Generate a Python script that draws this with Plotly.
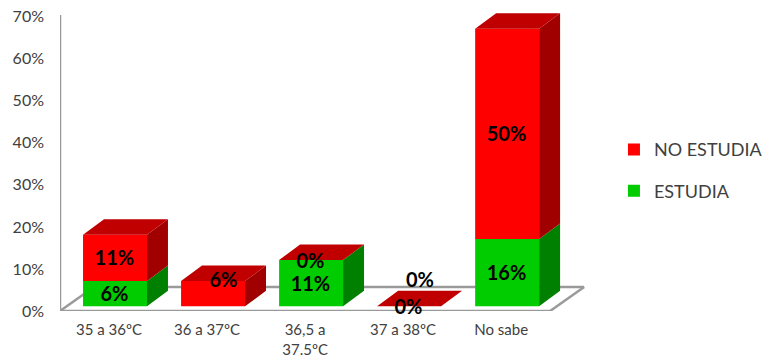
import plotly.graph_objects as go

# Chart data (percent of respondents)
categories = ["35 a 36ºC", "36 a 37ºC", "36,5 a<br>37.5ºC", "37 a 38ºC", "No sabe"]
estudia = [6, 0, 11, 0, 16]
no_estudia = [11, 6, 0, 0, 50]
y_ticks = [0, 10, 20, 30, 40, 50, 60, 70]
y_tick_labels = ["0%", "10%", "20%", "30%", "40%", "50%", "60%", "70%"]

# Oblique-projection constants for the 3D look, in axis units
PX_X = 98.1          # pixels per category
PX_Y = 4.2           # pixels per percentage point
BAR_W = 64 / PX_X
DEPTH_X = 21 / PX_X
DEPTH_Y = 15.5 / PX_Y
SHIFT_X = 6 / PX_X
SHIFT_Y = 4.7 / PX_Y
FLOOR_X = 34 / PX_X
FLOOR_Y = 24 / PX_Y
LABEL_DX = -0.6 / PX_X
LABEL_DY = -2.5 / PX_Y

RED, GREEN = "#ff0000", "#00cc00"
RED_TOP, RED_SIDE, GREEN_SIDE = "#c00000", "#a00000", "#008000"
AXIS = "#9a9a9a"
TEXT = "#404040"
FONT = "Lato"

n = len(categories)
pos = [i + SHIFT_X for i in range(n)]
base_green = [SHIFT_Y] * n
base_red = [SHIFT_Y + g for g in estudia]
tops = [SHIFT_Y + g + r for g, r in zip(estudia, no_estudia)]


def side_faces(bottoms, heights):
    xs, ys = [], []
    for p, b, h in zip(pos, bottoms, heights):
        if h == 0:
            continue
        r = p + BAR_W / 2
        xs += [r, r + DEPTH_X, r + DEPTH_X, r, r, None]
        ys += [b, b + DEPTH_Y, b + h + DEPTH_Y, b + h, b, None]
    return xs, ys


def top_faces():
    xs, ys = [], []
    for p, t in zip(pos, tops):
        l, r = p - BAR_W / 2, p + BAR_W / 2
        xs += [l, r, r + DEPTH_X, l + DEPTH_X, l, None]
        ys += [t, t, t + DEPTH_Y, t + DEPTH_Y, t, None]
    return xs, ys


def face(xy, color):
    return go.Scatter(x=xy[0], y=xy[1], mode="lines", fill="toself", fillcolor=color,
                      line=dict(width=0, color=color), hoverinfo="skip", showlegend=False)


fig = go.Figure()
fig.add_bar(x=pos, y=no_estudia, base=base_red, width=BAR_W, name="NO ESTUDIA",
            marker=dict(color=RED, line=dict(width=0)), legendgroup="b")
fig.add_bar(x=pos, y=estudia, base=base_green, width=BAR_W, name="ESTUDIA",
            marker=dict(color=GREEN, line=dict(width=0)), legendgroup="a")
fig.add_trace(face(side_faces(base_green, estudia), GREEN_SIDE))
fig.add_trace(face(side_faces(base_red, no_estudia), RED_SIDE))
fig.add_trace(face(top_faces(), RED_TOP))

# Data labels sit mid-segment; the hollow 36 a 37 and 37 a 38 labels are nudged clear of the bars
lab_x, lab_y, lab_t = [], [], []
for i in range(n):
    if not (estudia[i] == 0 and no_estudia[i] > 0):
        lab_x.append(pos[i] + LABEL_DX)
        lab_y.append(base_green[i] + estudia[i] / 2 + LABEL_DY)
        lab_t.append(f"{estudia[i]}%")
    dx, dy = 0, 0
    if i == 1:
        dx, dy = 11 / PX_X, 14.5 / PX_Y
    if i == 3:
        dx, dy = 11.5 / PX_X, 26.5 / PX_Y
    lab_x.append(pos[i] + dx + LABEL_DX)
    lab_y.append(base_red[i] + no_estudia[i] / 2 + dy + LABEL_DY)
    lab_t.append(f"{no_estudia[i]}%")
fig.add_trace(go.Scatter(x=lab_x, y=lab_y, text=lab_t, mode="text", textposition="middle center",
                         textfont=dict(family=FONT, size=20, color="#000000", weight="bold"),
                         cliponaxis=False, hoverinfo="skip", showlegend=False))


# Floor outline and vertical wall edge
def seg(x0, y0, x1, y1):
    return dict(type="line", xref="x", yref="y", x0=x0, y0=y0, x1=x1, y1=y1, layer="below",
                line=dict(color=AXIS, width=2.5))


L, R = -0.5, n - 0.5
shapes = [
    seg(L, 0, L, 70.4),
    seg(L, 0, R, 0),
    seg(R, 0, R + FLOOR_X, FLOOR_Y),
    seg(R + FLOOR_X, FLOOR_Y, L + FLOOR_X, FLOOR_Y),
    seg(L + FLOOR_X, FLOOR_Y, L, 0),
]

fig.update_layout(
    width=763, height=358, autosize=False,
    margin=dict(l=59.5, r=0, t=0, b=47.3, pad=0, autoexpand=False),
    plot_bgcolor="white", paper_bgcolor="white",
    barmode="overlay", shapes=shapes, hovermode=False,
    font=dict(family=FONT, color=TEXT),
    xaxis=dict(range=[L, L + (763 - 59.5) / PX_X], tickvals=list(range(n)), ticktext=categories,
               showgrid=False, zeroline=False, showline=False, ticks="", automargin=False,
               ticklabelstandoff=8, tickfont=dict(family=FONT, size=15, color=TEXT)),
    yaxis=dict(range=[0, 310.7 / PX_Y], tickvals=y_ticks, ticktext=y_tick_labels,
               showgrid=False, zeroline=False, showline=False, ticks="", automargin=False,
               ticklabelstandoff=15, tickfont=dict(family=FONT, size=16, color=TEXT)),
    legend=dict(x=0.788, xanchor="left", y=0.4528, yanchor="middle", traceorder="grouped",
                tracegroupgap=15, font=dict(family=FONT, size=18, color=TEXT),
                bgcolor="rgba(0,0,0,0)"),
)

fig.write_html("out.html")
